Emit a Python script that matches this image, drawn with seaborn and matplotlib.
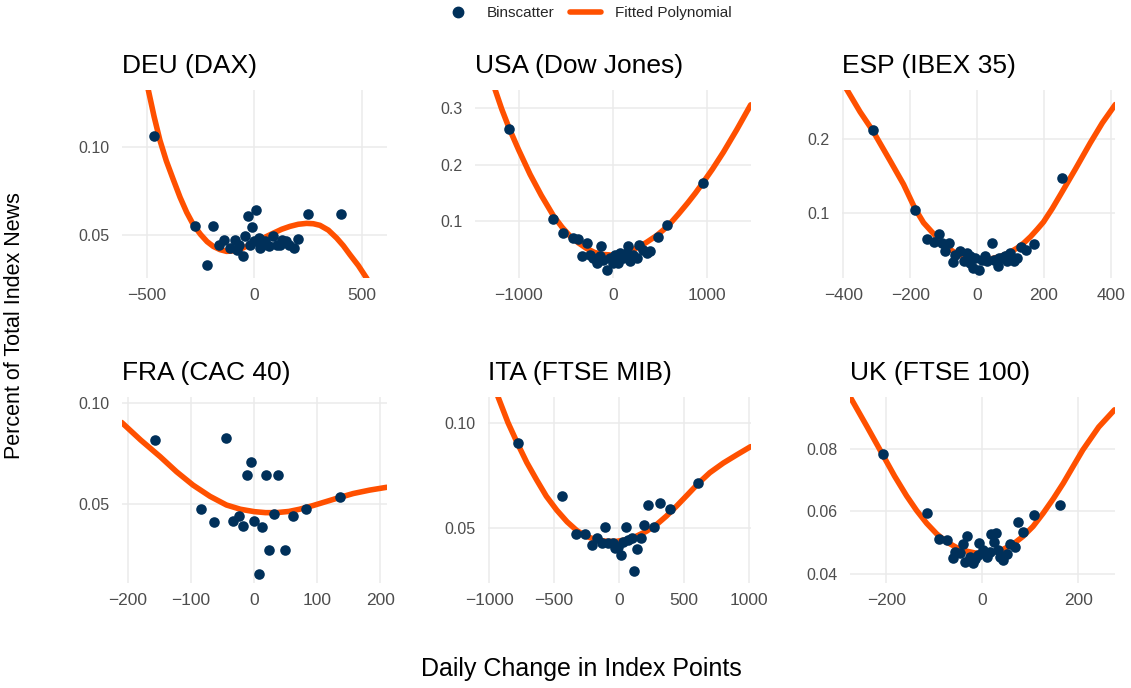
import seaborn as sns
import matplotlib.pyplot as plt
import pandas as pd
import numpy as np
from matplotlib.lines import Line2D

# binscatter points and fitted curves
deu_x = [-466, -276, -191, -222, -163, -141, -113, -90, -79, -70, -54, -43, -28, -20, -12, 6, -1, 23, 27,
         39, 50, 70, 89, 107, 120, 128, 148, 163, 185, 205, 252, 404]
deu_y = [0.1058, 0.0551, 0.0551, 0.0335, 0.0448, 0.0472, 0.0429, 0.0476, 0.0420, 0.0448, 0.0386, 0.0494,
         0.0607, 0.0448, 0.0547, 0.0644, 0.0466, 0.0485, 0.0429, 0.0448, 0.0466, 0.0438, 0.0494, 0.0448,
         0.0448, 0.0476, 0.0470, 0.0448, 0.0429, 0.0480, 0.0622, 0.0622]
deu_fit_x = [-530, -512, -494, -467, -440, -410, -377, -346, -315, -284, -250, -220, -191, -160, -129, -98,
             -67, -30, 11, 50, 89, 128, 166, 205, 244, 275, 306, 345, 384, 415, 446, 485, 523, 560]
deu_fit_y = [0.152, 0.142, 0.132, 0.117, 0.1037, 0.092, 0.0813, 0.0715, 0.0630, 0.0560, 0.0505, 0.0465,
             0.0438, 0.0420, 0.0410, 0.0413, 0.0422, 0.0442, 0.0466, 0.0490, 0.0513, 0.0535, 0.0551, 0.0563,
             0.0568, 0.0566, 0.0557, 0.0530, 0.0485, 0.0442, 0.0391, 0.0330, 0.0260, 0.0180]

usa_x = [-1103, -631, -525, -419, -366, -330, -277, -241, -206, -170, -135, -128, -100, -64, -29, 7, 24, 60,
         78, 113, 149, 166, 184, 219, 255, 283, 326, 362, 397, 485, 574, 957]
usa_y = [0.2634, 0.1047, 0.0795, 0.0707, 0.0690, 0.0395, 0.0619, 0.0413, 0.0354, 0.0266, 0.0383, 0.0571,
         0.0325, 0.0148, 0.0354, 0.0266, 0.0413, 0.0266, 0.0443, 0.0354, 0.0443, 0.0571, 0.0295, 0.0413,
         0.0354, 0.0590, 0.0500, 0.0443, 0.0470, 0.0725, 0.0929, 0.1670]
usa_fit_x = [-1300, -1252, -1180, -1103, -1000, -879, -760, -631, -540, -454, -365, -277, -190, -99, 0, 78,
             166, 255, 360, 468, 540, 610, 700, 800, 880, 957, 1060, 1177, 1320, 1468]
usa_fit_y = [0.357, 0.333, 0.298, 0.265, 0.226, 0.183, 0.146, 0.110, 0.090, 0.074, 0.062, 0.052, 0.045,
             0.0415, 0.0405, 0.0420, 0.0465, 0.0530, 0.0630, 0.0750, 0.0850, 0.0960, 0.1130, 0.1330,
             0.1500, 0.1676, 0.1920, 0.2220, 0.2620, 0.3058]

esp_x = [-312, -186, -150, -130, -115, -105, -95, -85, -72, -65, -50, -40, -30, -20, -20, -12, -5, 5, 15,
         25, 30, 45, 50, 62, 65, 75, 85, 90, 100, 110, 120, 132, 147, 170, 255]
esp_y = [0.2122, 0.1036, 0.0649, 0.0608, 0.0721, 0.0595, 0.0482, 0.0595, 0.0333, 0.0437, 0.0482, 0.0347,
         0.0459, 0.0324, 0.0414, 0.0257, 0.0392, 0.0234, 0.0369, 0.0414, 0.0347, 0.0595, 0.0369, 0.0288,
         0.0392, 0.0392, 0.0414, 0.0347, 0.0459, 0.0347, 0.0392, 0.0541, 0.0505, 0.0586, 0.1473]
esp_fit_x = [-410, -389, -350, -312, -259, -220, -186, -160, -130, -105, -80, -55, -30, -5, 20, 45, 70, 95,
             120, 140, 160, 180, 199, 225, 255, 295, 339, 375, 414]
esp_fit_y = [0.283, 0.2667, 0.237, 0.2115, 0.170, 0.139, 0.1065, 0.087, 0.0720, 0.0600, 0.0505, 0.0440,
             0.0395, 0.0372, 0.0370, 0.0385, 0.0414, 0.0460, 0.0527, 0.0595, 0.0680, 0.0780, 0.0880,
             0.1060, 0.1290, 0.1600, 0.1950, 0.2220, 0.2470]

fra_x = [-158, -45, -85, -63, -33, -24, -17, -11, -5, 0, 12, 7, 18, 24, 32, 38, 49, 62, 82, 136]
fra_y = [0.0818, 0.0830, 0.0475, 0.0412, 0.0416, 0.0442, 0.0391, 0.0644, 0.0710, 0.0417, 0.0387, 0.0152,
         0.0644, 0.0271, 0.0449, 0.0644, 0.0271, 0.0442, 0.0475, 0.0536]
fra_fit_x = [-210, -180, -149, -123, -97, -70, -44, -22, 0, 18, 35, 55, 72, 93, 114, 136, 157, 183, 210]
fra_fit_y = [0.0905, 0.0818, 0.0735, 0.0660, 0.0594, 0.0538, 0.0495, 0.0474, 0.0462, 0.0457, 0.0457,
             0.0463, 0.0474, 0.0492, 0.0512, 0.0533, 0.0552, 0.0569, 0.0583]

ita_x = [-781, -437, -334, -262, -211, -172, -134, -108, -82, -49, -31, -10, 13, 28, 51, 72, 98, 118, 141,
         167, 195, 226, 270, 316, 393, 611]
ita_y = [0.0902, 0.0651, 0.0468, 0.0468, 0.0417, 0.0449, 0.0429, 0.0505, 0.0425, 0.0425, 0.0402, 0.0410,
         0.0370, 0.0433, 0.0505, 0.0441, 0.0449, 0.0295, 0.0397, 0.0452, 0.0513, 0.0608, 0.0505, 0.0616,
         0.0587, 0.0714]
ita_fit_x = [-1007, -970, -930, -855, -781, -710, -634, -560, -480, -400, -326, -250, -172, -95, -18, 60,
             136, 212, 290, 365, 444, 525, 611, 700, 804, 910, 1014]
ita_fit_y = [0.1255, 0.1185, 0.1120, 0.1000, 0.0900, 0.0810, 0.0727, 0.0650, 0.0584, 0.0528, 0.0487,
             0.0458, 0.0442, 0.0435, 0.0435, 0.0443, 0.0460, 0.0483, 0.0515, 0.0555, 0.0603, 0.0655,
             0.0711, 0.0762, 0.0808, 0.0848, 0.0886]

uk_x = [-208, -116, -90, -74, -62, -56, -47, -41, -36, -31, -26, -20, -15, -8, -6, 2, 9, 16, 18, 24, 29, 33,
        38, 44, 51, 58, 68, 75, 85, 108, 163]
uk_y = [0.0783, 0.0594, 0.0512, 0.0507, 0.0450, 0.0471, 0.0466, 0.0495, 0.0437, 0.0522, 0.0455, 0.0434,
        0.0447, 0.0461, 0.0500, 0.0477, 0.0453, 0.0471, 0.0527, 0.0501, 0.0532, 0.0477, 0.0453, 0.0445,
        0.0464, 0.0495, 0.0487, 0.0567, 0.0533, 0.0587, 0.0621]
uk_fit_x = [-276, -240, -208, -183, -158, -137, -116, -95, -74, -53, -33, -15, 2, 22, 44, 65, 85, 106, 127,
            148, 169, 190, 210, 243, 276]
uk_fit_y = [0.0967, 0.0870, 0.0782, 0.0713, 0.0650, 0.0603, 0.0562, 0.0528, 0.0502, 0.0484, 0.0473,
            0.0467, 0.0466, 0.0469, 0.0479, 0.0496, 0.0520, 0.0552, 0.0594, 0.0640, 0.0690, 0.0745,
            0.0797, 0.0870, 0.0925]

titles = ["DEU (DAX)", "USA (Dow Jones)", "ESP (IBEX 35)", "FRA (CAC 40)", "ITA (FTSE MIB)", "UK (FTSE 100)"]

navy = "#00305A"
orange = "#FF5000"

W, H = 1131, 688

sns.set_theme(style="white")
plt.rcParams['font.family'] = ['Liberation Sans', 'DejaVu Sans']

fig = plt.figure(figsize=(W / 100, H / 100), dpi=100)


def rect(left, right, top, bottom):
    return [left / W, 1 - bottom / H, (right - left) / W, (bottom - top) / H]


panels = [
    (deu_x, deu_y, deu_fit_x, deu_fit_y, rect(121.7, 386.7, 90, 278), (-618, 617), (0.026, 0.132),
     [-500, 0, 500], [0.05, 0.10], "{:.2f}"),
    (usa_x, usa_y, usa_fit_x, usa_fit_y, rect(475, 750.7, 90, 278), (-1465, 1468), (0.0, 0.332),
     [-1000, 0, 1000], [0.1, 0.2, 0.3], "{:.1f}"),
    (esp_x, esp_y, esp_fit_x, esp_fit_y, rect(841.7, 1115, 90, 278), (-405, 413), (0.0122, 0.2666),
     [-400, -200, 0, 200, 400], [0.1, 0.2], "{:.1f}"),
    (fra_x, fra_y, fra_fit_x, fra_fit_y, rect(121.7, 386.7, 396.7, 583.3), (-210, 210), (0.0106, 0.1033),
     [-200, -100, 0, 100, 200], [0.05, 0.10], "{:.2f}"),
    (ita_x, ita_y, ita_fit_x, ita_fit_y, rect(488.3, 750.7, 396.7, 583.3), (-1007, 1015), (0.0235, 0.1124),
     [-1000, -500, 0, 500, 1000], [0.05, 0.10], "{:.2f}"),
    (uk_x, uk_y, uk_fit_x, uk_fit_y, rect(850, 1115, 396.7, 583.3), (-276, 277), (0.037, 0.0967),
     [-200, 0, 200], [0.04, 0.06, 0.08], "{:.2f}"),
]

for title, (px, py, fx, fy, pos, xlim, ylim, xt, yt, fmt) in zip(titles, panels):
    ax = fig.add_axes(pos)
    fit = pd.DataFrame({"x": fx, "y": fy})
    pts = pd.DataFrame({"x": px, "y": py})
    sns.lineplot(data=fit, x="x", y="y", ax=ax, color=orange, linewidth=4, zorder=2, sort=False)
    sns.scatterplot(data=pts, x="x", y="y", ax=ax, color=navy, s=58, linewidth=0, zorder=3)
    ax.set_xlim(*xlim)
    ax.set_ylim(*ylim)
    ax.set_xticks(xt)
    ax.set_yticks(yt)
    ax.set_yticklabels([fmt.format(v) for v in yt])
    ax.grid(True, color="#EBEBEB", linewidth=1.1)
    ax.set_axisbelow(True)
    for sp in ax.spines.values():
        sp.set_visible(False)
    ax.tick_params(axis="x", length=0, labelsize=12.5, labelcolor="#4D4D4D", pad=7)
    ax.tick_params(axis="y", length=0, labelsize=11.5, labelcolor="#4D4D4D", pad=9)
    ax.set_xlabel("")
    ax.set_ylabel("")
    ax.set_title(title, loc="left", fontsize=19, color="black", pad=12)

fig.text(15 / W, 1 - 326 / H, "Percent of Total Index News", rotation=90, ha="center", va="center",
         fontsize=15.5, color="black")
fig.text(581 / W, 1 - 669 / H, "Daily Change in Index Points", ha="center", va="center",
         fontsize=18, color="black")

handles = [Line2D([], [], marker="o", linestyle="", color=navy, markersize=7.5),
           Line2D([], [], color=orange, linewidth=4)]
fig.legend(handles, ["Binscatter", "Fitted Polynomial"], loc="center", bbox_to_anchor=(587 / W, 1 - 13 / H),
           ncol=2, frameon=False, fontsize=11, handlelength=2.0, columnspacing=1.0, handletextpad=0.9)

plt.savefig("out.png", dpi=100)
plt.close()
